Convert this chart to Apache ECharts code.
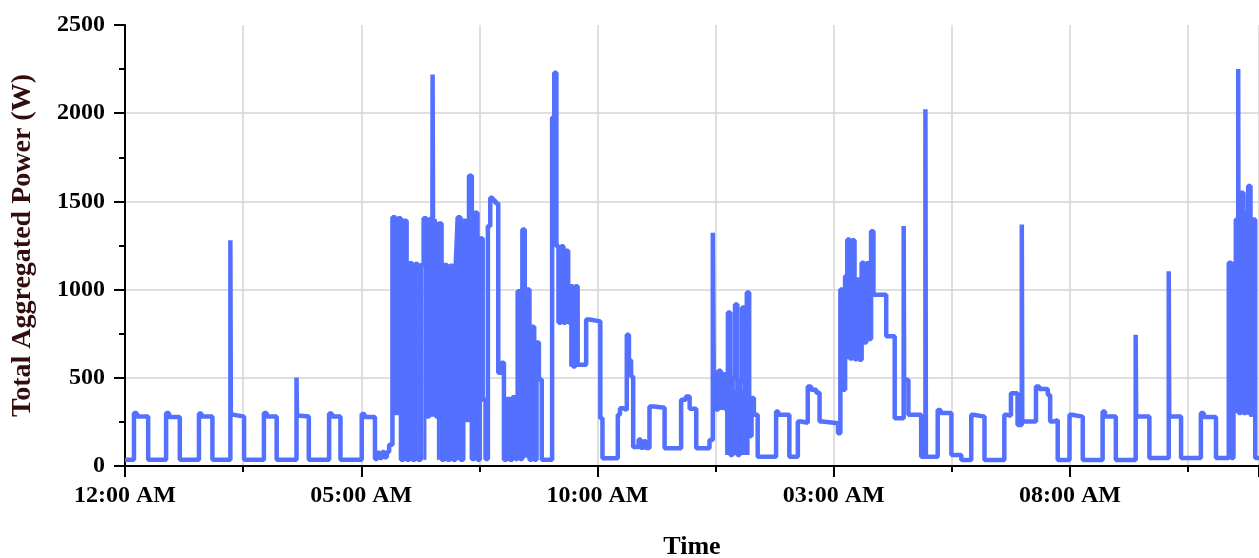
<!DOCTYPE html>
<html><head><meta charset="utf-8">
<script src="https://cdn.jsdelivr.net/npm/echarts/dist/echarts.min.js"></script>
<style>html,body{margin:0;padding:0;background:#fff}#c{width:1259px;height:558px}</style>
</head><body><div id="c"></div>
<script>
// ---- data: [hours since start, watts]; each value holds until the next point ----
const timeLabels = ['12:00 AM', '05:00 AM', '10:00 AM', '03:00 AM', '08:00 AM'];

const nightSteps = [
  [0, 35], [0.19, 300], [0.25, 280], [0.49, 35],
  [0.87, 300], [0.93, 278], [1.16, 35],
  [1.565, 298], [1.62, 280], [1.85, 36],
  [2.23, 1280], [2.24, 290], [2.31, 280], [2.52, 35],
  [2.94, 300], [3.0, 280], [3.21, 35],
  [3.63, 502], [3.64, 285], [3.71, 280], [3.89, 35],
  [4.32, 298], [4.38, 280], [4.56, 35],
  [5.01, 295], [5.07, 278], [5.29, 40],
  [5.34, 75], [5.39, 45], [5.44, 80], [5.49, 50], [5.54, 80], [5.59, 120]
];
const burst1 = [
  [5.66, 1410], [5.72, 300], [5.78, 1405], [5.84, 35], [5.90, 1390], [5.96, 35], [6.02, 1150],
  [6.08, 35], [6.14, 1145], [6.20, 35], [6.26, 1140], [6.32, 1405], [6.38, 280], [6.44, 1400],
  [6.50, 280], [6.51, 2220], [6.52, 1380], [6.58, 280], [6.64, 1375], [6.70, 35], [6.76, 1140],
  [6.82, 35], [6.88, 1135], [6.94, 35], [7.00, 1140], [7.04, 1410], [7.10, 35], [7.16, 1390],
  [7.22, 261], [7.28, 1645], [7.34, 40], [7.40, 1435]
];
const morningSteps = [
  [7.46, 35], [7.51, 1290], [7.57, 375], [7.63, 40], [7.68, 1360], [7.73, 1520], [7.78, 1505],
  [7.84, 1490], [7.90, 528], [7.97, 585]
];
const burst2 = [
  [8.02, 35], [8.08, 380], [8.14, 35], [8.20, 390], [8.26, 40], [8.31, 990], [8.36, 40],
  [8.41, 1341], [8.46, 60], [8.51, 1000], [8.56, 35], [8.61, 790], [8.66, 35], [8.71, 700],
  [8.76, 490]
];
const midSteps = [[8.82, 35], [9.04, 1975], [9.085, 2230]];
const burst3 = [
  [9.13, 1246], [9.18, 812], [9.23, 1246], [9.28, 812], [9.33, 1220], [9.38, 815], [9.43, 1019],
  [9.48, 564], [9.53, 1019], [9.58, 574]
];
const noonSteps = [
  [9.76, 830], [9.83, 820], [10.06, 270], [10.105, 44], [10.43, 290], [10.475, 328],
  [10.55, 318], [10.62, 744], [10.665, 600], [10.71, 507], [10.755, 108], [10.87, 150], [10.915, 104],
  [10.98, 140], [11.025, 102], [11.10, 337], [11.20, 330], [11.42, 100], [11.77, 375], [11.87, 394],
  [11.95, 324], [12.09, 100], [12.37, 148], [12.44, 1322]
];
const burst4 = [
  [12.46, 530], [12.51, 320], [12.56, 540], [12.61, 330], [12.66, 520], [12.71, 320], [12.76, 870],
  [12.81, 62], [12.86, 500], [12.91, 915], [12.96, 62], [13.01, 480], [13.06, 898], [13.11, 166],
  [13.16, 983], [13.21, 170], [13.26, 386]
];
const afternoonSteps = [
  [13.31, 290], [13.39, 53], [13.78, 309], [13.825, 290], [14.06, 53], [14.24, 252], [14.31, 245],
  [14.45, 451], [14.52, 432], [14.63, 415], [14.70, 252], [14.76, 242], [15.09, 185], [15.14, 1000],
  [15.19, 432]
];
const burst5 = [
  [15.24, 1076], [15.29, 1284], [15.34, 610], [15.39, 1280], [15.44, 605], [15.49, 1057],
  [15.54, 602], [15.59, 1152], [15.64, 700], [15.69, 1150], [15.74, 720], [15.79, 1331], [15.84, 971]
];
const eveningSteps = [
  [16.11, 735], [16.29, 271], [16.48, 1360], [16.49, 489], [16.58, 290], [16.85, 53],
  [16.94, 2023], [16.95, 53], [17.20, 318], [17.26, 300], [17.49, 62], [17.70, 34], [17.91, 290],
  [17.96, 280], [18.19, 34], [18.61, 290], [18.67, 285], [18.75, 413], [18.89, 233], [18.98, 1369],
  [18.99, 252], [19.28, 451], [19.35, 437], [19.53, 403], [19.58, 252], [19.67, 261], [19.74, 34],
  [19.99, 290], [20.04, 280], [20.27, 34], [20.69, 309], [20.74, 280], [20.97, 34], [21.39, 744],
  [21.40, 280], [21.68, 45], [22.09, 1104], [22.10, 280], [22.35, 45], [22.77, 300], [22.83, 278],
  [23.09, 45]
];
const burst6 = [
  [23.36, 1152], [23.41, 45], [23.46, 1150], [23.51, 1398], [23.56, 2250], [23.57, 300],
  [23.62, 1549], [23.67, 300], [23.72, 1436], [23.77, 1587], [23.82, 290], [23.87, 1398]
];
const endSteps = [[23.92, 45], [24, 48]];

// envelope of the rapid on/off switching inside each burst: [from h, to h, min W, max W]
const burstBands = [
  [5.66, 5.81, 300, 1410], [5.81, 5.96, 35, 1395], [5.96, 6.32, 35, 1145], [6.32, 6.38, 35, 1405],
  [6.38, 6.60, 280, 1400], [6.60, 6.65, 35, 1378], [6.65, 7.03, 35, 1140], [7.03, 7.12, 35, 1410],
  [7.12, 7.28, 261, 1390], [7.28, 7.33, 261, 1645], [7.33, 7.38, 35, 1645], [7.38, 7.44, 35, 1435],
  [8.02, 8.27, 35, 385],
  [9.13, 9.20, 812, 1246], [9.20, 9.40, 812, 1220], [9.40, 9.61, 564, 1019],
  [12.46, 12.70, 320, 530], [12.70, 13.22, 62, 430],
  [15.24, 15.44, 605, 1282], [15.44, 15.62, 602, 1057], [15.62, 15.69, 700, 1152], [15.69, 15.82, 720, 1000],
  [23.36, 23.48, 45, 1152], [23.48, 23.58, 300, 1398], [23.58, 23.69, 300, 1549], [23.69, 23.79, 290, 1436],
  [23.79, 23.90, 280, 1398]
];

const powerData = [].concat(
  nightSteps, burst1, morningSteps, burst2, midSteps, burst3, noonSteps, burst4,
  afternoonSteps, burst5, eveningSteps, burst6, endSteps
);

const FONT = "'Liberation Serif', 'Times New Roman', serif";
const LINE_COLOR = '#5370ff';
const chart = echarts.init(document.getElementById('c'), null, { renderer: 'canvas' });
chart.setOption({
  animation: false,
  backgroundColor: '#fff',
  grid: { left: 125, right: 0, top: 25, bottom: 92, containLabel: false, outerBoundsMode: 'none' },
  xAxis: [
    {
      type: 'value', min: 0, max: 24, interval: 5, position: 'bottom',
      name: 'Time', nameLocation: 'middle', nameGap: 68,
      nameTextStyle: { fontFamily: FONT, fontWeight: 'bold', fontSize: 26, color: '#000' },
      axisLine: { show: true, onZero: false, lineStyle: { color: '#000', width: 2 } },
      axisTick: { show: true, inside: false, length: 11, lineStyle: { color: '#000', width: 2 } },
      axisLabel: {
        show: true, margin: 18, fontFamily: FONT, fontWeight: 'bold', fontSize: 24, color: '#000',
        formatter: v => (v % 5 === 0 && v / 5 < timeLabels.length) ? timeLabels[v / 5] : ''
      },
      splitLine: { show: false }
    },
    {
      type: 'value', min: 0, max: 24, interval: 2.5, position: 'bottom',
      axisLine: { show: false, onZero: false },
      axisTick: { show: true, inside: false, length: 6, lineStyle: { color: '#000', width: 2 } },
      axisLabel: { show: false },
      splitLine: { show: true, lineStyle: { color: '#d4d4d4', width: 1.5 } }
    }
  ],
  yAxis: {
    type: 'value', min: 0, max: 2500, interval: 500,
    name: 'Total Aggregated Power (W)', nameLocation: 'middle', nameGap: 88, nameRotate: 90,
    nameTextStyle: { fontFamily: FONT, fontWeight: 'bold', fontSize: 28, color: '#330d0d' },
    axisLine: { show: true, lineStyle: { color: '#000', width: 2 } },
    axisTick: { show: true, inside: false, length: 11, lineStyle: { color: '#000', width: 2 } },
    minorTick: { show: true, splitNumber: 2, length: 6, lineStyle: { color: '#000', width: 2 } },
    axisLabel: {
      margin: 20, fontFamily: FONT, fontWeight: 'bold', fontSize: 24, color: '#000',
      formatter: v => String(v)
    },
    splitLine: { show: true, showMinLine: false, showMaxLine: false, lineStyle: { color: '#d4d4d4', width: 1.5 } },
    minorSplitLine: { show: false }
  },
  series: [
    {
      type: 'line', xAxisIndex: 0, yAxisIndex: 0, step: 'end',
      data: powerData, showSymbol: false, symbol: 'none', sampling: null,
      lineStyle: { color: LINE_COLOR, width: 4.5 },
      itemStyle: { color: LINE_COLOR }, z: 5,
      markArea: {
        silent: true,
        label: { show: false },
        itemStyle: { color: LINE_COLOR, opacity: 1 },
        data: burstBands.map(b => [{ xAxis: b[0], yAxis: b[3] }, { xAxis: b[1], yAxis: b[2] }])
      }
    }
  ]
});
</script></body></html>
